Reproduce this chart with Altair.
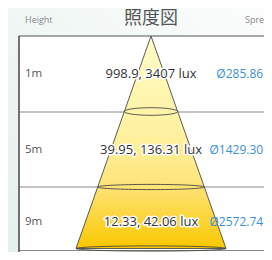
import altair as alt
import numpy as np
import pandas as pd

# ---- content ----
heights = ["1m", "5m", "9m"]
lux_labels = ["998.9, 3407 lux", "39.95, 136.31 lux", "12.33, 42.06 lux"]
spreads = ["Ø285.86cm", "Ø1429.30cm", "Ø2572.74cm"]
title_text = "照度図"
header_left = "Height"
header_right = "Spread"

# ---- layout (reference pixel frame) ----
X0, X1, Y0, Y1 = 8, 264, 8, 252
table_left, table_top = 19, 36
row_lines = [112, 187, 250.5]
ring_y = [111.5, 187, 248.5]
ring_hh = [3.8, 2.6, 2.6]
apex_x, apex_y = 151, 36
cone_slope = 0.353
label_x, spread_right = 25, 280

xs = alt.Scale(domain=[X0, X1], nice=False, zero=False)
ys = alt.Scale(domain=[Y0, Y1], nice=False, zero=False, reverse=True)


def X(f):
    return alt.X(f, type="quantitative", scale=xs, axis=None)


def Y(f):
    return alt.Y(f, type="quantitative", scale=ys, axis=None)


W, H = X1 - X0, Y1 - Y0

bg = alt.Chart(pd.DataFrame({"x": [X0], "x2": [X1], "y": [Y0], "y2": [Y1]})).mark_rect(
    fill=alt.LinearGradient(gradient="linear", x1=0, y1=1, x2=1, y2=0,
                            stops=[alt.GradientStop(offset=0, color="#e5f0ec"),
                                   alt.GradientStop(offset=1, color="#fbfdfc")]),
    clip=True,
).encode(x=X("x"), x2="x2", y=Y("y"), y2="y2")

table = alt.Chart(pd.DataFrame({"x": [table_left], "x2": [X1], "y": [table_top], "y2": [Y1]})).mark_rect(
    fill="white", clip=True
).encode(x=X("x"), x2="x2", y=Y("y"), y2="y2")

lines_df = pd.DataFrame({"y": row_lines, "x": [table_left] * 3, "x2": [X1] * 3})
row_rules = alt.Chart(lines_df).mark_rule(color="#8a8a8a", strokeWidth=1, clip=True).encode(
    x=X("x"), x2="x2", y=Y("y"))

top_rule = alt.Chart(pd.DataFrame({"x": [table_left], "x2": [X1], "y": [table_top]})).mark_rule(
    color="#555555", strokeWidth=1, clip=True).encode(x=X("x"), x2="x2", y=Y("y"))
left_rule = alt.Chart(pd.DataFrame({"x": [table_left], "y": [table_top], "y2": [Y1]})).mark_rule(
    color="#444444", strokeWidth=1.5, clip=True).encode(x=X("x"), y=Y("y"), y2="y2")

bottom = ring_y[-1]
half = cone_slope * (bottom - apex_y)
cone_df = pd.DataFrame({"y": [apex_y, bottom], "xl": [apex_x, apex_x - half], "xr": [apex_x, apex_x + half]})
cone = alt.Chart(cone_df).mark_area(
    orient="horizontal",
    fill=alt.LinearGradient(gradient="linear", x1=0, y1=0, x2=0, y2=1,
                            stops=[alt.GradientStop(offset=0, color="#fffcc8"),
                                   alt.GradientStop(offset=0.5, color="#fff09c"),
                                   alt.GradientStop(offset=0.7, color="#fee47a"),
                                   alt.GradientStop(offset=1, color="#fac800")]),
    stroke="#4a4a4a", strokeWidth=0.9, clip=True,
).encode(y=Y("y"), x=X("xl"), x2="xr")

t = np.linspace(0, 2 * np.pi, 73)
rows = []
for i, (cy, hh) in enumerate(zip(ring_y, ring_hh)):
    r = cone_slope * (cy - apex_y)
    for k, tt in enumerate(t):
        rows.append({"ring": i, "k": k, "x": apex_x + r * np.cos(tt), "y": cy + hh * np.sin(tt)})
rings = alt.Chart(pd.DataFrame(rows)).mark_line(color="#454545", strokeWidth=0.9, clip=True).encode(
    x=X("x"), y=Y("y"), detail="ring:N", order="k:Q")

bounds = [table_top, 112, 187, 256]
mids = [(a + b) / 2 for a, b in zip(bounds[:-1], bounds[1:])]
txt = pd.DataFrame({"h": heights, "lux": lux_labels, "sp": spreads, "y": mids,
                    "lx": [label_x] * 3, "cx": [apex_x] * 3, "rx": [spread_right] * 3})

FONT = "Open Sans"
row_labels = alt.Chart(txt).mark_text(align="left", baseline="middle", font=FONT, fontSize=11.5,
                                      color="#555555").encode(x=X("lx"), y=Y("y"), text="h:N")
lux_halo = alt.Chart(txt).mark_text(align="center", baseline="middle", font=FONT, fontSize=13,
                                    color="white", stroke="white", strokeWidth=3, strokeJoin="round"
                                    ).encode(x=X("cx"), y=Y("y"), text="lux:N")
lux_txt = alt.Chart(txt).mark_text(align="center", baseline="middle", font=FONT, fontSize=13,
                                   color="#333333").encode(x=X("cx"), y=Y("y"), text="lux:N")
spread_txt = alt.Chart(txt).mark_text(align="right", baseline="middle", font=FONT, fontSize=12,
                                      color="#3a8fd6").encode(x=X("rx"), y=Y("y"), text="sp:N")

hdr = pd.DataFrame({"t": [header_left, header_right], "x": [label_x, 245], "y": [20, 20]})
headers = alt.Chart(hdr).mark_text(align="left", baseline="middle", font=FONT, fontSize=9,
                                   color="#8a8a8a").encode(x=X("x"), y=Y("y"), text="t:N")
title = alt.Chart(pd.DataFrame({"t": [title_text], "x": [apex_x], "y": [23.5]})).mark_text(
    align="center", baseline="alphabetic", font="Noto Sans CJK JP", fontSize=18, color="#555555"
).encode(x=X("x"), y=Y("y"), text="t:N")

chart = alt.layer(bg, table, row_rules, top_rule, left_rule, cone, rings,
                  row_labels, lux_halo, lux_txt, spread_txt, headers, title).properties(
    width=W, height=H, padding=0, autosize=alt.AutoSizeParams(type="none"),
    background="white",
).configure_view(stroke=None)

chart.save("out.html", embed_options={"renderer": "svg", "actions": False})
